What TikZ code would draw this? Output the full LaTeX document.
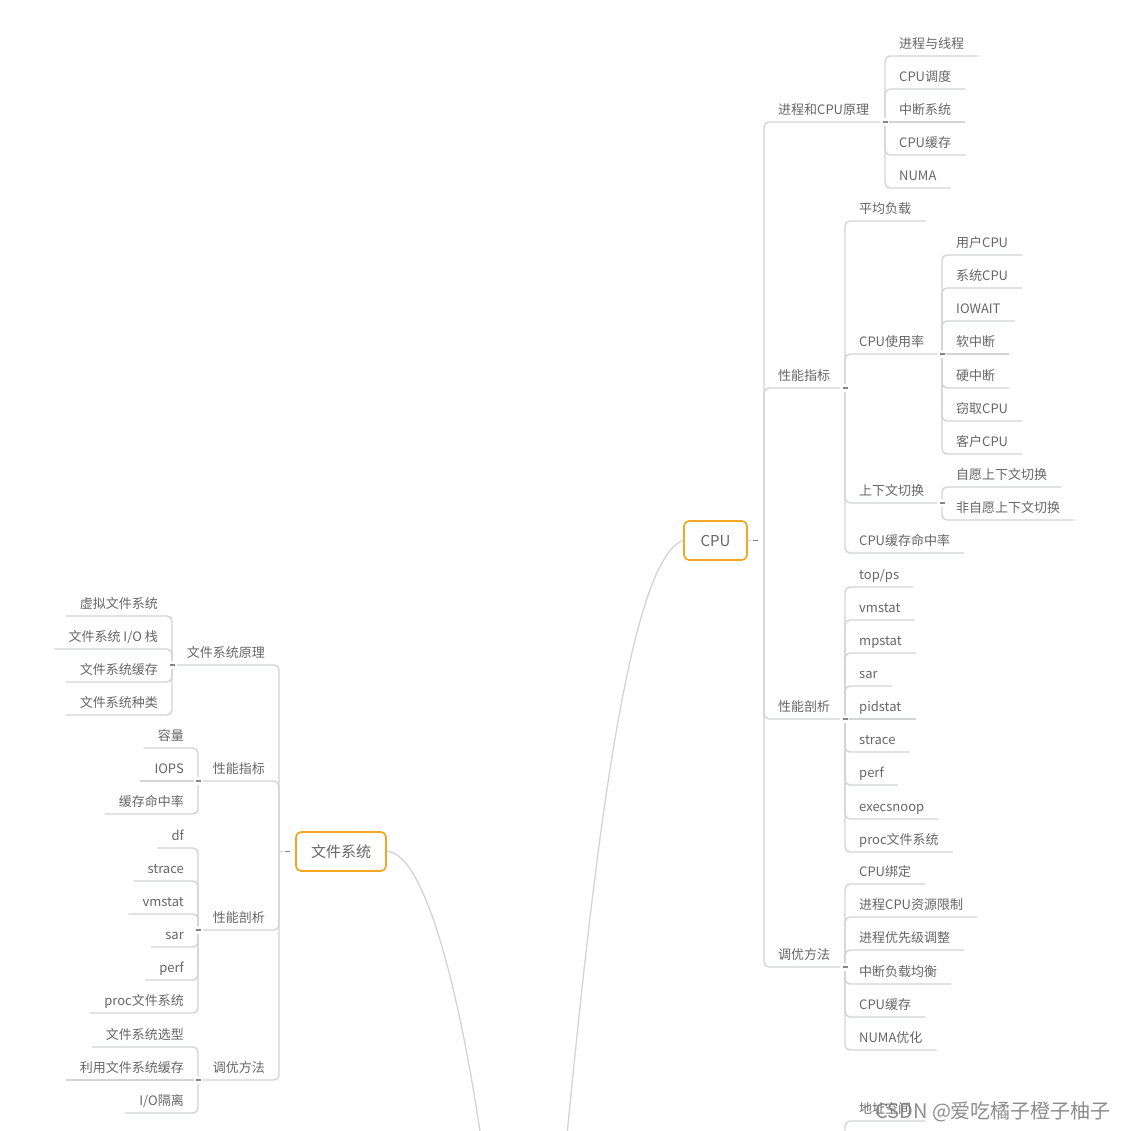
\documentclass[tikz,border=0pt]{standalone}
\usepackage{fontspec}
\setmainfont{Noto Sans CJK SC}
\usetikzlibrary{calc}
\definecolor{txt}{HTML}{666666}
\definecolor{ln}{HTML}{D2D4D5}
\definecolor{knobc}{HTML}{858585}
\definecolor{orng}{HTML}{F5A623}
\definecolor{wm}{HTML}{7A7A7A}
\tikzset{
 topic/.style={font=\fontsize{13}{15}\selectfont, text=txt, inner xsep=14pt, inner ysep=0pt, text height=10pt, text depth=7.5pt},
 conn/.style={draw=ln, line width=1.4pt, rounded corners=5pt},
 knob/.style={draw=knobc, line width=1.4pt},
 rootbox/.style={draw=orng, line width=1.7pt, rounded corners=5pt, fill=white, text=txt, font=\fontsize{15}{18}\selectfont, minimum height=39pt, inner xsep=0pt},
}
\newcommand{\rtopic}[4]{\node[topic,anchor=south west] (#1) at (#2,#3) {#4};}
\newcommand{\ltopic}[4]{\node[topic,anchor=south east] (#1) at (#2,#3) {#4};}
\newcommand{\rup}[2]{\draw[conn] ($(#1)+(0,-4)$) -- (#2.south west) -- (#2.south east);}
\newcommand{\rdown}[2]{\draw[conn] ($(#1)+(0,4)$) -- (#2.south west) -- (#2.south east);}
\newcommand{\rmid}[1]{\draw[conn] ($(#1.south west)+(4,0)$) -- (#1.south east);}
\newcommand{\lup}[2]{\draw[conn] ($(#1)+(0,-4)$) -- (#2.south east) -- (#2.south west);}
\newcommand{\ldown}[2]{\draw[conn] ($(#1)+(0,4)$) -- (#2.south east) -- (#2.south west);}
\newcommand{\lmid}[1]{\draw[conn] ($(#1.south east)+(-4,0)$) -- (#1.south west);}
\newcommand{\knobat}[1]{\draw[knob] ($(#1)+(-2.5,0)$) -- ($(#1)+(2.5,0)$);}
\begin{document}
\begin{tikzpicture}[x=1pt,y=-1pt]
\useasboundingbox (0,0) rectangle (1122,1131);
\fill[white] (0,0) rectangle (1122,1131);

% root boxes
\node[rootbox, minimum width=63pt] (cpu) at (715.5,540.5) {CPU};
\node[rootbox, minimum width=90pt] (fs) at (341,851.5) {文件系统};
\coordinate (T1) at (764,540.5);
\coordinate (T2) at (279,851.5);
\draw[conn] (cpu.east) -- ($(cpu.east)+(3,0)$);
\draw[knob] ($(cpu.east)+(5.5,0)$) -- ($(cpu.east)+(10.5,0)$);
\draw[knob] ($(fs.west)+(-10,0)$) -- ($(fs.west)+(-5,0)$);
\draw[conn] (T2) -- ($(T2)+(4,0)$);

% ---------- CPU side ----------
% 进程和CPU原理
\rtopic{a}{764}{122}{进程和CPU原理}
\coordinate (ja) at (885,122);
\draw[conn] (T1) -- (a.south west) -- ($(ja)+(-5,0)$);
\knobat{ja}
\rtopic{a1}{885}{56}{进程与线程}
\rtopic{a2}{885}{89}{CPU调度}
\rtopic{a3}{885}{122}{中断系统}
\rtopic{a4}{885}{155}{CPU缓存}
\rtopic{a5}{885}{188}{NUMA}
\rup{ja}{a1} \rup{ja}{a2} \rmid{a3} \rdown{ja}{a4} \rdown{ja}{a5}

% 性能指标
\rtopic{b}{764}{388}{性能指标}
\coordinate (jb) at (845,388);
\draw[conn] (T1) -- (b.south west) -- ($(jb)+(-5,0)$);
\knobat{jb}
\rtopic{b1}{845}{221}{平均负载}
\rtopic{b2}{845}{354}{CPU使用率}
\rtopic{b3}{845}{503}{上下文切换}
\rtopic{b4}{845}{553}{CPU缓存命中率}
\coordinate (jb2) at (942,354);
\coordinate (jb3) at (942,503);
\rup{jb}{b1}
\draw[conn] ($(jb)+(0,-4)$) -- (b2.south west) -- ($(jb2)+(-5,0)$);
\draw[conn] ($(jb)+(0,4)$) -- (b3.south west) -- ($(jb3)+(-5,0)$);
\rdown{jb}{b4}
\knobat{jb2}
\knobat{jb3}
\rtopic{b21}{942}{255}{用户CPU}
\rtopic{b22}{942}{288}{系统CPU}
\rtopic{b23}{942}{321}{IOWAIT}
\rtopic{b24}{942}{354}{软中断}
\rtopic{b25}{942}{388}{硬中断}
\rtopic{b26}{942}{421}{窃取CPU}
\rtopic{b27}{942}{454}{客户CPU}
\rup{jb2}{b21} \rup{jb2}{b22} \rup{jb2}{b23} \rmid{b24}
\rdown{jb2}{b25} \rdown{jb2}{b26} \rdown{jb2}{b27}
\rtopic{b31}{942}{487}{自愿上下文切换}
\rtopic{b32}{942}{520}{非自愿上下文切换}
\rup{jb3}{b31} \rdown{jb3}{b32}

% 性能剖析
\rtopic{c}{764}{719}{性能剖析}
\coordinate (jc) at (845,719);
\draw[conn] (T1) -- (c.south west) -- ($(jc)+(-5,0)$);
\knobat{jc}
\rtopic{c1}{845}{587}{top/ps}
\rtopic{c2}{845}{620}{vmstat}
\rtopic{c3}{845}{653}{mpstat}
\rtopic{c4}{845}{686}{sar}
\rtopic{c5}{845}{719}{pidstat}
\rtopic{c6}{845}{752}{strace}
\rtopic{c7}{845}{785}{perf}
\rtopic{c8}{845}{819}{execsnoop}
\rtopic{c9}{845}{852}{proc文件系统}
\rup{jc}{c1} \rup{jc}{c2} \rup{jc}{c3} \rup{jc}{c4} \rmid{c5}
\rdown{jc}{c6} \rdown{jc}{c7} \rdown{jc}{c8} \rdown{jc}{c9}

% 调优方法
\rtopic{d}{764}{967}{调优方法}
\coordinate (jd) at (845,967);
\draw[conn] (T1) -- (d.south west) -- ($(jd)+(-5,0)$);
\knobat{jd}
\rtopic{d1}{845}{884}{CPU绑定}
\rtopic{d2}{845}{917}{进程CPU资源限制}
\rtopic{d3}{845}{950}{进程优先级调整}
\rtopic{d4}{845}{984}{中断负载均衡}
\rtopic{d5}{845}{1017}{CPU缓存}
\rtopic{d6}{845}{1050}{NUMA优化}
\rup{jd}{d1} \rup{jd}{d2} \rup{jd}{d3}
\rdown{jd}{d4} \rdown{jd}{d5} \rdown{jd}{d6}

% ---------- 文件系统 side ----------
\ltopic{fa}{279}{665}{文件系统原理}
\coordinate (jfa) at (172,665);
\draw[conn] (T2) -- (fa.south east) -- ($(jfa)+(5,0)$);
\knobat{jfa}
\ltopic{fa1}{172}{616}{虚拟文件系统}
\ltopic{fa2}{172}{649}{文件系统 I/O 栈}
\ltopic{fa3}{172}{682}{文件系统缓存}
\ltopic{fa4}{172}{715}{文件系统种类}
\lup{jfa}{fa1} \lup{jfa}{fa2} \ldown{jfa}{fa3} \ldown{jfa}{fa4}

\ltopic{fb}{279}{781}{性能指标}
\coordinate (jfb) at (198,781);
\draw[conn] (T2) -- (fb.south east) -- ($(jfb)+(5,0)$);
\knobat{jfb}
\ltopic{fb1}{198}{748}{容量}
\ltopic{fb2}{198}{781}{IOPS}
\ltopic{fb3}{198}{814}{缓存命中率}
\lup{jfb}{fb1} \lmid{fb2} \ldown{jfb}{fb3}

\ltopic{fc}{279}{930}{性能剖析}
\coordinate (jfc) at (198,930);
\draw[conn] (T2) -- (fc.south east) -- ($(jfc)+(5,0)$);
\knobat{jfc}
\ltopic{fc1}{198}{848}{df}
\ltopic{fc2}{198}{881}{strace}
\ltopic{fc3}{198}{914}{vmstat}
\ltopic{fc4}{198}{947}{sar}
\ltopic{fc5}{198}{980}{perf}
\ltopic{fc6}{198}{1013}{proc文件系统}
\lup{jfc}{fc1} \lup{jfc}{fc2} \lup{jfc}{fc3}
\ldown{jfc}{fc4} \ldown{jfc}{fc5} \ldown{jfc}{fc6}

\ltopic{fd}{279}{1080}{调优方法}
\coordinate (jfd) at (198,1080);
\draw[conn] (T2) -- (fd.south east) -- ($(jfd)+(5,0)$);
\knobat{jfd}
\ltopic{fd1}{198}{1047}{文件系统选型}
\ltopic{fd2}{198}{1080}{利用文件系统缓存}
\ltopic{fd3}{198}{1113}{I/O隔离}
\lup{jfd}{fd1} \lmid{fd2} \ldown{jfd}{fd3}

% ---------- curves to off-page root and partial branch ----------
\rtopic{addr}{845}{1121}{地址空间}
\begin{scope}
\clip (0,0) rectangle (1122,1131);
\draw[conn, line width=1.3pt] (cpu.west) .. controls (625,560) and (590,900) .. (566,1145);
\draw[conn, line width=1.3pt] (fs.east) .. controls (420,851.5) and (456,965) .. (482,1145);
\coordinate (jaddr) at (845,1150);
\draw[conn] (jaddr) -- (addr.south west) -- (addr.south east);
\end{scope}

% watermark
\node[font=\fontsize{20}{24}\selectfont, text=wm, opacity=0.85, inner sep=0pt, anchor=west] (wmk) at (875,1112) {CSDN @爱吃橘子橙子柚子};
\end{tikzpicture}
\end{document}
